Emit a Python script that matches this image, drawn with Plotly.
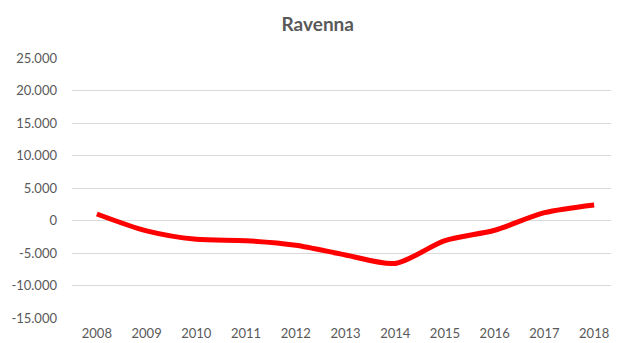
import plotly.graph_objects as go

years = ["2008", "2009", "2010", "2011", "2012", "2013", "2014", "2015", "2016", "2017", "2018"]
values = [1000, -1600, -2900, -3100, -3800, -5300, -6600, -3100, -1500, 1200, 2400]
y_ticks = [-15000, -10000, -5000, 0, 5000, 10000, 15000, 20000, 25000]
y_tick_labels = ["-15.000", "-10.000", "-5.000", "0", "5.000", "10.000", "15.000", "20.000", "25.000"]

fig = go.Figure()
fig.add_trace(go.Scatter(
    x=years, y=values, mode="lines",
    line=dict(color="#FF0000", width=5, shape="spline", smoothing=0.8),
    hoverinfo="x+y",
))

fig.update_layout(
    width=611, height=335,
    margin=dict(l=64, r=0, t=50, b=25),
    paper_bgcolor="white", plot_bgcolor="white",
    showlegend=False,
    font=dict(family="Lato, sans-serif", size=13, color="#595959"),
    title=dict(text="<b>Ravenna</b>", x=0.507, xanchor="center", y=0.952, yanchor="middle",
               font=dict(family="Lato, sans-serif", size=19, color="#595959")),
)
fig.update_xaxes(
    type="category", range=[-0.5, 10.5], showgrid=False, zeroline=False,
    showline=False, ticks="", ticklabelstandoff=6,
)
fig.update_yaxes(
    range=[-15000, 25000], tickvals=y_ticks, ticktext=y_tick_labels,
    showgrid=True, gridcolor="#D9D9D9", gridwidth=1, zeroline=False,
    showline=False, ticks="", ticklabelstandoff=14,
)

fig.write_html("out.html")
